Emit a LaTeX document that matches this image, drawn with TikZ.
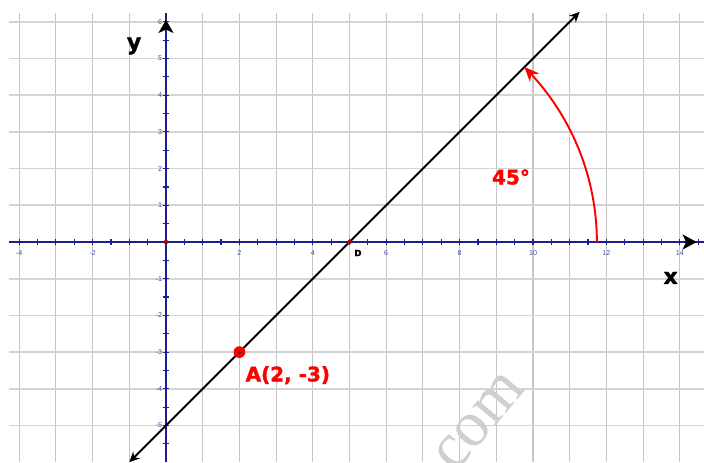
\documentclass[tikz,border=0pt]{standalone}
\usepackage{fontspec}
\setmainfont{DejaVu Sans}
\newfontfamily\lblfont{Liberation Sans}
\newfontfamily\wmfont{Liberation Serif}
\newfontfamily\heavyfont{DejaVu Sans Bold}[FakeBold=1.6]
\usetikzlibrary{arrows.meta,bending,calc}
\definecolor{axisblue}{HTML}{1E1E8C}
\definecolor{tickblue}{HTML}{4A4AA8}
\definecolor{gridgray}{HTML}{C6C6C6}
\definecolor{gridgrayh}{HTML}{D4D4D4}
\definecolor{wmgray}{HTML}{CFCFCF}
\definecolor{ptred}{HTML}{FF0000}
\tikzset{
  gridv/.style={draw=gridgray, line width=0.9pt},
  gridh/.style={draw=gridgrayh, line width=1.3pt},
  axisline/.style={draw=axisblue, line width=1.2pt},
  tickline/.style={draw=axisblue, line width=0.9pt},
  ticklbl/.style={text=tickblue, font=\lblfont\fontsize{5.5}{6}\selectfont, inner sep=0pt},
  bigred/.style={text=ptred, font=\heavyfont\fontsize{15.5}{17}\selectfont, inner sep=0pt},
  axislbl/.style={text=black, font=\heavyfont\fontsize{17}{19}\selectfont, inner sep=0pt},
  mainline/.style={draw=black, line width=1.5pt, {Stealth[length=2.8mm,width=2.6mm]}-{Stealth[length=2.8mm,width=2.6mm]}},
  anglearc/.style={draw=ptred, line width=1.5pt, -{Stealth[length=4mm,width=3.4mm,bend]}},
  smalldot/.style={circle, fill=ptred!70!black, inner sep=0pt, minimum size=1.2mm},
}
\begin{document}
\begin{tikzpicture}[x=1cm,y=1cm]
\useasboundingbox (-4.523,-5.995) rectangle (14.659,6.594);
\fill[white] (-4.523,-5.995) rectangle (14.659,6.594);
% grid
\foreach \i in {-4,...,14} \draw[gridv] (\i,-6) -- (\i,6.24);
\foreach \j in {-5,...,6} \draw[gridh] (-4.28,\j) -- (14.66,\j);
% watermark
\node[text=wmgray, font=\wmfont\fontsize{50}{50}\selectfont, rotate=50, inner sep=0pt] (wm) at (8.55,-4.9) {com};
% axes
\draw[axisline] (-4.28,0) -- (14.66,0);
\draw[axisline] (0,-6) -- (0,6.24);
\foreach \t in {-4,-3.5,...,14.5} \draw[tickline] (\t,-0.085) -- (\t,0.085);
\foreach \t in {-5.5,-5,...,6} \draw[tickline] (-0.09,\t) -- (0.09,\t);
\foreach \t in {-4,-2,2,4,6,8,10,12,14} \node[ticklbl] at (\t,-0.3) {\t};
\foreach \t in {-5,...,-1,1,2,...,6} \node[ticklbl, anchor=east] at (-0.1,\t) {\t};
% axis arrowheads
\fill[black] (14.46,0) -- (14.07,0.21) -- (14.17,0) -- (14.07,-0.21) -- cycle;
\fill[black] (0,6.05) -- (0.21,5.69) -- (0,5.79) -- (-0.21,5.69) -- cycle;
\node[axislbl] (xl) at (13.75,-0.98) {x};
\node[axislbl] (yl) at (-0.87,5.34) {y};
% points
\coordinate (O) at (0,0);
\coordinate (D) at (5,0);
\coordinate (A) at (2,-3);
\coordinate (L1) at (-1,-6);
\coordinate (L2) at (11.27,6.27);
\coordinate (S) at (11.74,0);
% the line
\draw[mainline] (L1) -- (A) -- (D) -- (L2);
\node[smalldot] (Odot) at (O) {};
\node[smalldot] (Ddot) at (D) {};
\node[text=black, font=\heavyfont\fontsize{6.5}{7}\selectfont, inner sep=0pt] (Dl) at (5.23,-0.3) {D};
% angle arc
\draw[anglearc] (S) arc[start angle=0, end angle=45, radius=6.74];
\node[bigred] (ang) at (9.40,1.77) {45°};
% point A
\node[circle, fill=ptred, inner sep=0pt, minimum size=3.2mm] (Apt) at (A) {};
\draw[black!80, line width=0.5pt] ($(A)+(-0.07,0)$) -- ($(A)+(0.07,0)$);
\draw[black!80, line width=0.5pt] ($(A)+(0,-0.07)$) -- ($(A)+(0,0.07)$);
\node[bigred] (Al) at (3.32,-3.63) {A(2, -3)};
\end{tikzpicture}
\end{document}
